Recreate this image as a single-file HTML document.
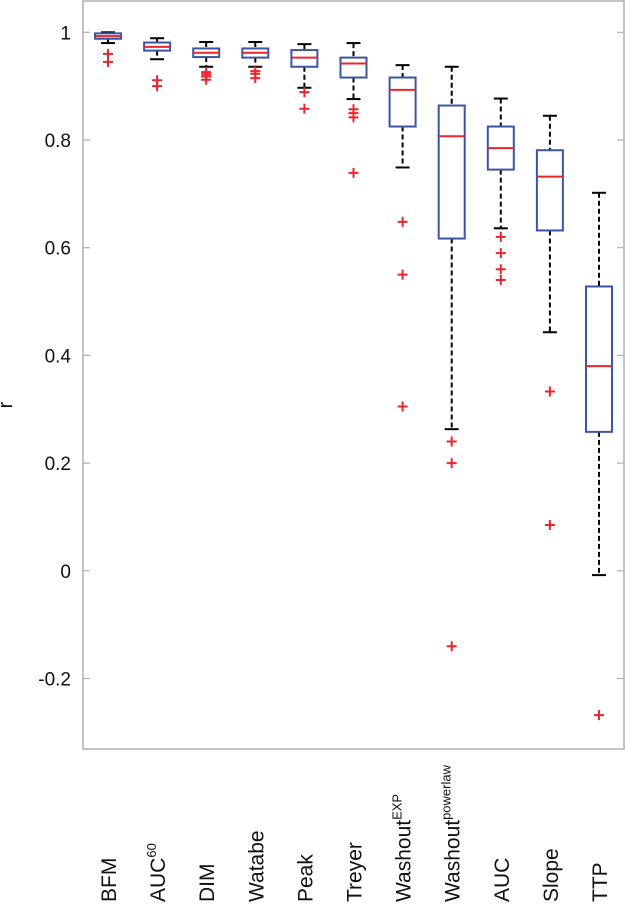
<!DOCTYPE html>
<html><head><meta charset="utf-8"><style>
html,body{margin:0;padding:0;background:#fff;width:625px;height:905px;overflow:hidden}
svg{display:block;font-family:"Liberation Sans",sans-serif}
</style></head><body>
<svg id="chart" width="625" height="905" viewBox="0 0 625 905" xmlns="http://www.w3.org/2000/svg"></svg>
<script>
const categories=["BFM","AUC","DIM","Watabe","Peak","Treyer","Washout","Washout","AUC","Slope","TTP"];
const superscripts=["","60","","","","","EXP","powerlaw","","",""];
const whiskerHigh=[1.0,0.989,0.982,0.982,0.978,0.980,0.939,0.936,0.877,0.845,0.702];
const q3=[0.998,0.981,0.970,0.970,0.967,0.953,0.916,0.864,0.825,0.781,0.528];
const medians=[0.993,0.973,0.962,0.962,0.953,0.942,0.893,0.807,0.785,0.732,0.380];
const q1=[0.988,0.966,0.954,0.953,0.936,0.916,0.825,0.617,0.745,0.632,0.258];
const whiskerLow=[0.980,0.950,0.936,0.936,0.897,0.876,0.749,0.263,0.636,0.443,-0.008];
const outliers=[[0.96,0.945],[0.911,0.9],[0.926,0.922,0.918,0.912],[0.928,0.923,0.915],[0.889,0.858],[0.857,0.85,0.842,0.739],[0.648,0.55,0.305],[0.24,0.20,-0.14],[0.62,0.59,0.56,0.54],[0.333,0.085],[-0.268]];
const yTicks=[1,0.8,0.6,0.4,0.2,0,-0.2];
const yTickLabels=["1","0.8","0.6","0.4","0.2","0","-0.2"];

const NS="http://www.w3.org/2000/svg";
const svg=document.getElementById('chart');
const L=83,R=624,T=1,B=749;
function y(v){return 570.8-v*538.5;}
function x(i){return 108+i*49.1;}
function mk(tag,attrs,parent){const e=document.createElementNS(NS,tag);for(const k in attrs)e.setAttribute(k,attrs[k]);(parent||svg).appendChild(e);return e;}

const frame=mk('rect',{x:L,y:T,width:R-L,height:B-T,fill:'none',stroke:'#b0b0b0','stroke-width':1.5});



yTicks.forEach((v,i)=>{
  const t1=mk('line',{x1:L,x2:L+7,y1:y(v),y2:y(v),stroke:'#b0b0b0','stroke-width':1.2});
  
  
  const t2=mk('line',{x1:R-7,x2:R,y1:y(v),y2:y(v),stroke:'#b0b0b0','stroke-width':1.2});
  
  
  const lb=mk('text',{x:71,y:y(v)+7,'text-anchor':'end','font-size':19,fill:'#111'});
  lb.textContent=yTickLabels[i];
  
  
});
const yt=mk('text',{x:12,y:405,'text-anchor':'middle','font-size':20,fill:'#111',transform:'rotate(-90 12 405)'});
yt.textContent='r';



const hw=13,cap=7;
categories.forEach((c,i)=>{
  const cx=x(i);
  const g=mk('g',{});
  
  
  mk('line',{x1:cx,x2:cx,y1:y(whiskerHigh[i]),y2:y(q3[i]),stroke:'#000','stroke-width':2,'stroke-dasharray':'5,3'},g);
  mk('line',{x1:cx,x2:cx,y1:y(q1[i]),y2:y(whiskerLow[i]),stroke:'#000','stroke-width':2,'stroke-dasharray':'5,3'},g);
  mk('line',{x1:cx-cap,x2:cx+cap,y1:y(whiskerHigh[i]),y2:y(whiskerHigh[i]),stroke:'#000','stroke-width':2},g);
  mk('line',{x1:cx-cap,x2:cx+cap,y1:y(whiskerLow[i]),y2:y(whiskerLow[i]),stroke:'#000','stroke-width':2},g);
  mk('rect',{x:cx-hw,y:y(q3[i]),width:2*hw,height:Math.max(1,y(q1[i])-y(q3[i])),fill:'#fff',stroke:'#3a55a4','stroke-width':2},g);
  mk('line',{x1:cx-hw,x2:cx+hw,y1:y(medians[i]),y2:y(medians[i]),stroke:'#e8262b','stroke-width':2},g);
  outliers[i].forEach(v=>{
    const p=mk('path',{d:`M${cx-5} ${y(v)}H${cx+5}M${cx} ${y(v)-5}V${y(v)+5}`,stroke:'#e8262b','stroke-width':2,fill:'none'},g);
    
    
  });
  const tx=cx+8;
  const lb=mk('text',{x:tx,y:902,'font-size':21,fill:'#111',transform:`rotate(-90 ${tx} 902)`});
  lb.textContent=c;
  if(superscripts[i]){const s=mk('tspan',{'font-size':13,dy:-9},lb);s.textContent=superscripts[i];}
  
  
});
</script>
</body></html>
